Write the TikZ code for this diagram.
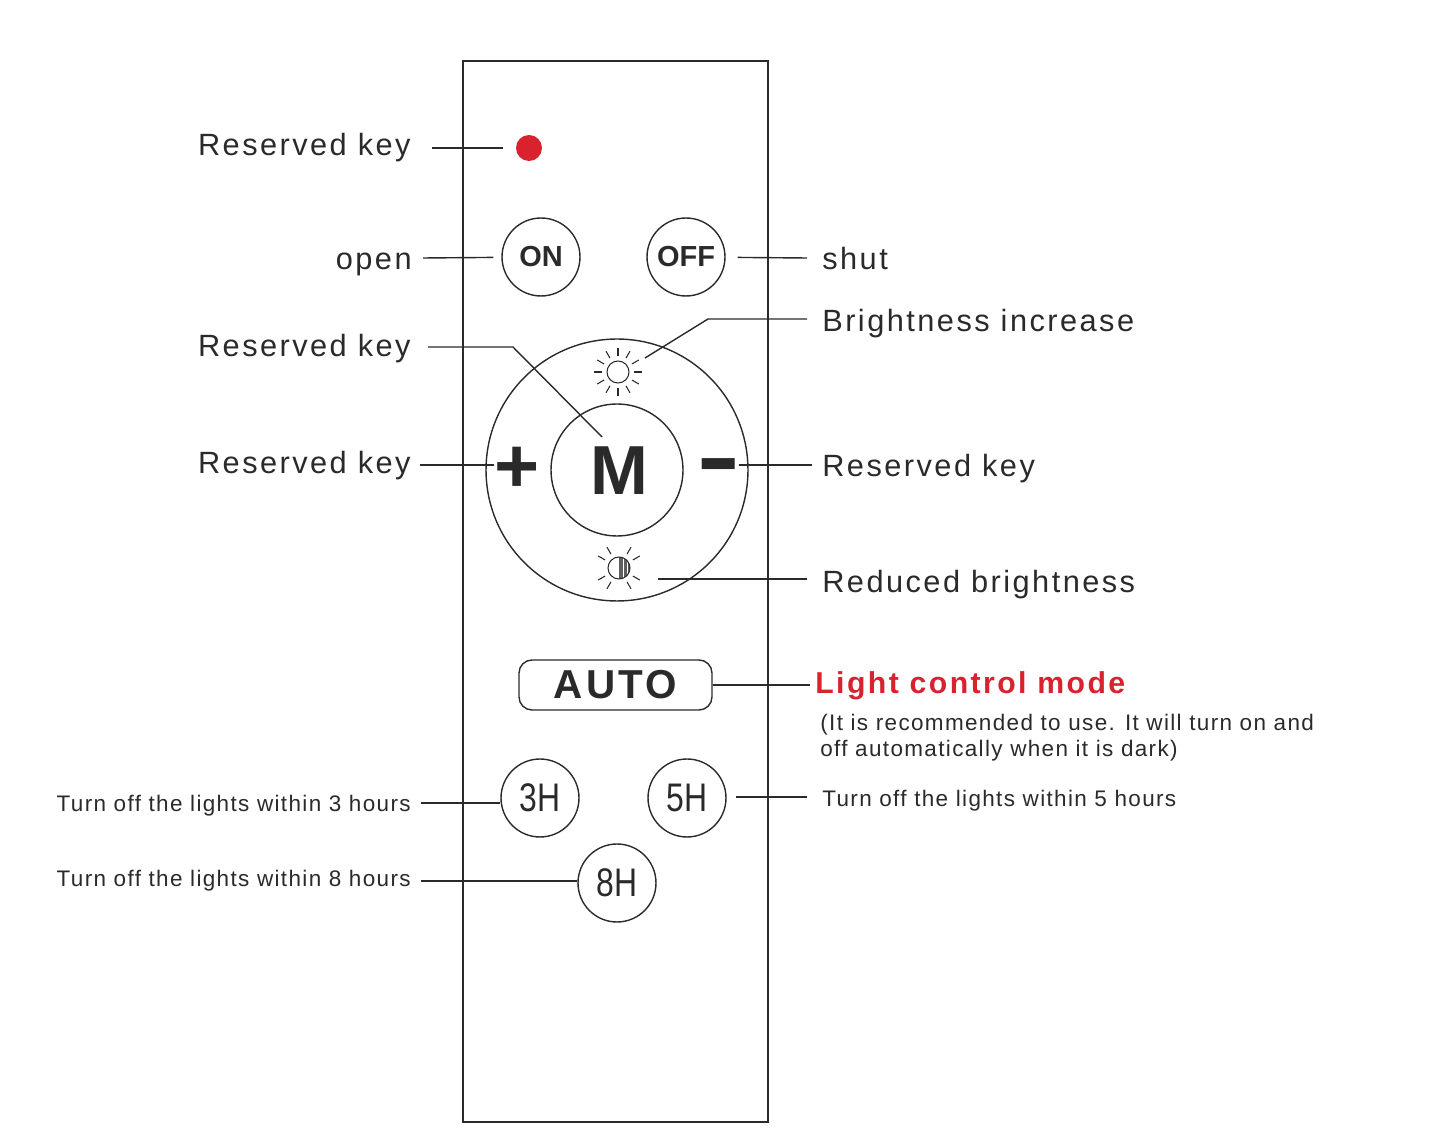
\documentclass[tikz,border=0pt]{standalone}
\usepackage{fontspec}
\setmainfont{Liberation Sans}
\newfontfamily\lblfont[LetterSpace=8]{Liberation Sans}
\newfontfamily\smlfont[LetterSpace=6]{Liberation Sans}
\newfontfamily\condfont[FakeStretch=0.8]{Liberation Sans}
\definecolor{ink}{HTML}{2A2A2A}
\definecolor{led-red}{HTML}{D8232F}
\newcommand*\lblsz{\lblfont\fontsize{17.5}{21}\selectfont}
\newcommand*\smlsz{\smlfont\fontsize{12.8}{14.7}\selectfont}
\newcommand*\hsz{\condfont\fontsize{22.7}{24}\selectfont}
\begin{document}
\begin{tikzpicture}[x=0.02cm,y=-0.02cm,
	lbl/.style={font=\lblsz,text=ink,inner sep=0pt},
	sml/.style={font=\smlsz,text=ink,inner sep=0pt},
	key/.style={circle,draw=ink,line width=0.8pt,minimum size=1.56cm,inner sep=0pt,text=ink},
	lead/.style={draw=ink,line width=0.8pt},
	ray/.style={draw=ink,line width=0.6pt}]
	\useasboundingbox (0,0) rectangle (1445,1148);
	\draw[ink,line width=1.1pt] (463,61) rectangle (768,1122);

	\node (led) [circle,fill=led-red,minimum size=0.52cm,inner sep=0pt] at (529,148) {};
	\node (on) [key,font=\bfseries\fontsize{16.5}{20}\selectfont] at (541,257) {ON};
	\node (off) [key,font=\bfseries\fontsize{16.5}{20}\selectfont] at (686,257) {OFF};
	\node (dial) [circle,draw=ink,line width=0.8pt,minimum size=5.24cm] at (617,470) {};
	\node (mkey) [circle,draw=ink,line width=0.8pt,minimum size=2.64cm] at (617,470) {};
	\node (mtxt) [font=\bfseries\fontsize{39.5}{40}\selectfont,inner sep=0pt,text=ink] at (619,471) {M};
	\node (plus) [font=\bfseries\fontsize{44}{44}\selectfont,inner sep=0pt,text=ink] at (517,470) {+};
	\node (minus) [font=\bfseries\fontsize{44}{44}\selectfont,inner sep=0pt,text=ink] at (719,478) {\scalebox{0.85}[1.3]{−}};
	\node (auto) [draw=ink,line width=0.8pt,rounded corners=0.26cm,minimum width=3.86cm,minimum height=1cm,inner sep=0pt,
		font=\lblfont\bfseries\fontsize{23}{24}\selectfont,text=ink] at (615.5,685) {AUTO};
	\node (h3) [key,font=\hsz] at (540,798) {3H};
	\node (h5) [key,font=\hsz] at (687,798) {5H};
	\node (h8) [key,font=\hsz] at (617,883) {8H};

	\coordinate (sunup) at (618,372);
	\coordinate (sundn) at (619,568);
	\draw[ray] (sunup) circle (11);
	\foreach \a in {0,30,...,330}
		\draw[ray] ([shift={(\a:16)}]sunup) -- ([shift={(\a:24)}]sunup);
	\fill[ink!75] (sundn) ++(90:11) arc[start angle=90,end angle=-90,radius=11] -- cycle;
	\draw[white,line width=0.5pt] ([shift={(4,-10)}]sundn) -- ([shift={(4,10)}]sundn)
		([shift={(8,-7)}]sundn) -- ([shift={(8,7)}]sundn);
	\draw[ray] (sundn) circle (11);
	\foreach \a in {30,60,120,150,210,240,300,330}
		\draw[ray] ([shift={(\a:16)}]sundn) -- ([shift={(\a:24)}]sundn);

	\node (rk-led) [lbl,anchor=base east] at (411,156) {Reserved key};
	\node (open) [lbl,anchor=base east] at (412,270) {open};
	\node (rk-m) [lbl,anchor=base east] at (411,357) {Reserved key};
	\node (rk-plus) [lbl,anchor=base east] at (411,474) {Reserved key};
	\node (shut) [lbl,anchor=base west] at (822,270) {shut};
	\node (bright-up) [lbl,anchor=base west] at (822,332) {Brightness increase};
	\node (rk-minus) [lbl,anchor=base west] at (822,477) {Reserved key};
	\node (bright-dn) [lbl,anchor=base west] at (822,593) {Reduced brightness};
	\node (mode) [lbl,anchor=base west,font=\lblfont\bfseries\fontsize{17.2}{20}\selectfont,text=led-red] at (815,694) {Light control mode};
	\node (mode-note) [sml,anchor=north west,align=left] at (820,714) {(It is recommended to use. It will turn on and\\off automatically when it is dark)};
	\node (h3-txt) [sml,anchor=base east] at (411,812) {Turn off the lights within 3 hours};
	\node (h5-txt) [sml,anchor=base west] at (822,807) {Turn off the lights within 5 hours};
	\node (h8-txt) [sml,anchor=base east] at (411,887) {Turn off the lights within 8 hours};

	\coordinate (l-led) at (432,148);
	\coordinate (l-on) at (423,258);
	\coordinate (r-off) at (807,258);
	\coordinate (bu-bend) at (708,319);
	\coordinate (bu-end) at (807,319);
	\coordinate (rm-start) at (428,347);
	\coordinate (rm-bend) at (513,347);
	\coordinate (m-tip) at (602,437);
	\coordinate (l-plus) at (420,465);
	\coordinate (r-minus) at (812,465);
	\coordinate (bd-end) at (807,579);
	\coordinate (r-auto) at (810,685);
	\coordinate (l-h3) at (421,803);
	\coordinate (r-h5) at (807,797);
	\coordinate (l-h8) at (421,881);

	\draw[lead,shorten >=0.26cm] (l-led) -- (led);
	\draw[lead,shorten >=0.16cm] (l-on) -- (on);
	\draw[lead,shorten <=0.24cm] (off) -- (r-off);
	\draw[lead] ([shift={(27,-14)}]sunup) -- (bu-bend) -- (bu-end);
	\draw[lead] (rm-start) -- (rm-bend) -- (m-tip);
	\draw[lead] (l-plus) -- (l-plus -| plus.west);
	\draw[lead] (r-minus -| minus.east) -- (r-minus);
	\draw[lead] ([shift={(39,11)}]sundn) -- (bd-end);
	\draw[lead] (auto.east) -- (r-auto);
	\draw[lead] (l-h3) -- (l-h3 -| h3.west);
	\draw[lead,shorten <=0.18cm] (h5.east |- r-h5) -- (r-h5);
	\draw[lead] (l-h8) -- (l-h8 -| h8.west);
\end{tikzpicture}
\end{document}
